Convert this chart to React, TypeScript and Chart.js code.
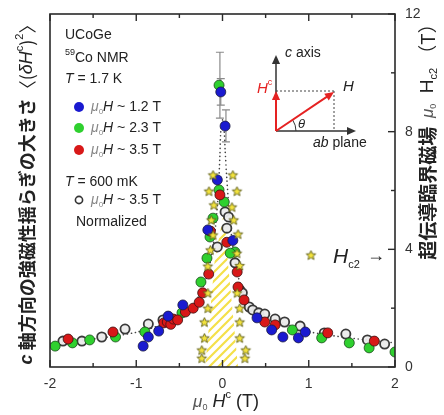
import React, { useEffect, useRef } from 'react';
import { Chart, registerables } from 'chart.js';
Chart.register(...registerables);

const SANS = '"Liberation Sans", Arial, Helvetica, sans-serif';
const CJK = '"Noto Sans CJK JP", "Noto Sans CJK SC", sans-serif';

// axis ticks
const xTicks = [-2, -1.5, -1, -0.5, 0, 0.5, 1, 1.5, 2];
const xTickLabels = ['-2', '', '-1', '', '0', '', '1', '', '2'];
const yTicks = [0, 2, 4, 6, 8, 10, 12];
const yTickLabels = ['0', '', '4', '', '8', '', '12'];

// 1.7 K, mu0H ~ 1.2 T
const blueX = [-0.02, 0.03, -0.06, -0.17, 0.12, -0.46, -0.63, -0.74, -0.86, -0.92, 0.40, 0.57, 0.70, 0.88, 0.96];
const blueY = [9.35, 8.19, 6.36, 4.66, 4.3, 2.11, 1.73, 1.22, 1.02, 0.71, 1.67, 1.26, 1.02, 0.99, 1.19];
// 1.7 K, mu0H ~ 2.3 T
const greenX = [-0.04, -0.04, 0.02, -0.11, -0.145, 0.145, -0.18, -0.25, 0.09, -0.47, -0.90, -1.24, -1.54, -1.74, -1.94, 0.81, 1.15, 1.47, 1.70, 2.0];
const greenY = [9.58, 6.02, 5.61, 5.06, 4.42, 3.91, 3.7, 2.89, 3.87, 1.84, 1.19, 1.02, 0.92, 0.82, 0.71, 1.26, 0.99, 0.82, 0.65, 0.51];
// 1.7 K, mu0H ~ 3.5 T
const redX = [-1.79, -1.27, -0.68, -0.64, -0.60, -0.57, -0.52, -0.43, -0.34, -0.27, -0.23, -0.16, -0.03, -0.14, 0.05, 0.17, 0.18, 0.25, 0.49, 0.61, 1.22, 1.76];
const redY = [0.95, 1.19, 1.50, 1.53, 1.45, 1.63, 1.60, 1.87, 2.0, 2.2, 2.52, 3.16, 5.85, 4.62, 4.24, 3.23, 2.72, 2.28, 1.53, 1.43, 1.16, 0.88];
// 600 mK, mu0H ~ 3.5 T (normalized)
const openX = [-1.85, -1.63, -1.40, -1.13, -0.86, -0.69, -0.06, 0.03, 0.05, 0.07, 0.145, 0.2, 0.23, 0.31, 0.35, 0.42, 0.49, 0.61, 0.72, 0.90, 1.18, 1.43, 1.68, 1.88];
const openY = [0.88, 0.88, 1.02, 1.29, 1.46, 1.60, 4.08, 5.27, 4.72, 5.10, 3.54, 2.62, 2.52, 2.04, 1.94, 1.84, 1.80, 1.63, 1.53, 1.39, 1.16, 1.12, 0.92, 0.78];
// Hc2 (right axis)
const starX = [-0.11, -0.157, -0.10, -0.13, -0.11, -0.14, -0.17, -0.17, -0.17, -0.21, -0.21, -0.24, -0.24,
  0.12, 0.168, 0.11, 0.13, 0.18, 0.168, 0.2, 0.17, 0.2, 0.2, 0.2, 0.27, 0.26];
const starY = [6.53, 5.98, 5.51, 5.0, 4.49, 3.98, 3.43, 2.52, 2.0, 1.53, 0.99, 0.58, 0.3,
  6.53, 5.98, 5.44, 5.0, 4.52, 3.87, 3.45, 2.52, 2.0, 1.53, 0.99, 0.58, 0.3];
// superconducting region (hatched)
const hatchX = [-0.2, -0.09, 0.02, 0.06, 0.18];
const hatchY = [0, 3.64, 5.3, 3.64, 0];
// guide to the eye (dotted)
const guideX = [-2.0, -1.5, -1.0, -0.7, -0.5, -0.35, -0.25, -0.18, -0.12, -0.08, -0.05, -0.03, -0.02, 0, 0.02, 0.03, 0.05, 0.08, 0.12, 0.18, 0.25, 0.35, 0.5, 0.7, 1.0, 1.5, 2.0];
const guideY = [0.8, 0.95, 1.18, 1.45, 1.75, 2.1, 2.55, 3.1, 3.9, 4.8, 5.9, 7.2, 8.0, 8.4, 8.0, 7.4, 6.4, 5.2, 4.1, 3.1, 2.45, 2.05, 1.75, 1.5, 1.2, 0.98, 0.82];
// error bars near the peak
const errX = [-0.03, -0.02, 0.04];
const errLo = [8.46, 8.9, 7.65];
const errHi = [10.7, 9.8, 8.74];

const BLUE = '#1a1ad0';
const GREEN = '#2fd02f';
const RED = '#d81818';

const pts = (xs: number[], ys: number[]) => xs.map((x, i) => ({ x, y: ys[i] }));

function makeStar(r: number) {
  const s = Math.ceil(r * 2 + 3);
  const c = document.createElement('canvas');
  c.width = s; c.height = s;
  const g = c.getContext('2d')!;
  g.beginPath();
  for (let i = 0; i < 10; i++) {
    const a = -Math.PI / 2 + (i * Math.PI) / 5;
    const rr = i % 2 === 0 ? r : r * 0.45;
    g.lineTo(s / 2 + rr * Math.cos(a), s / 2 + 0.5 + rr * Math.sin(a));
  }
  g.closePath();
  g.fillStyle = '#f3e33c';
  g.fill();
  g.strokeStyle = '#5e5e18';
  g.lineWidth = 0.9;
  g.stroke();
  return c;
}

function makeHatch(ctx: CanvasRenderingContext2D) {
  const n = 9;
  const c = document.createElement('canvas');
  c.width = n; c.height = n;
  const g = c.getContext('2d')!;
  g.strokeStyle = '#f4e04a';
  g.lineWidth = 2.2;
  g.beginPath();
  g.moveTo(0, n); g.lineTo(n, 0);
  g.moveTo(-2, 2); g.lineTo(2, -2);
  g.moveTo(n - 2, n + 2); g.lineTo(n + 2, n - 2);
  g.stroke();
  return ctx.createPattern(c, 'repeat')!;
}

type Seg = [string, string, number?, string?];
function richWidth(ctx: CanvasRenderingContext2D, segs: Seg[]) {
  let w = 0;
  for (const s of segs) { ctx.font = s[1]; w += ctx.measureText(s[0]).width; }
  return w;
}
function drawRich(ctx: CanvasRenderingContext2D, segs: Seg[], x: number, y: number, align: 'left' | 'center') {
  const w = richWidth(ctx, segs);
  let cx = align === 'center' ? x - w / 2 : x;
  ctx.textAlign = 'left';
  ctx.textBaseline = 'middle';
  for (const s of segs) {
    ctx.font = s[1];
    ctx.fillStyle = s[3] || '#222';
    ctx.fillText(s[0], cx, y + (s[2] || 0));
    cx += ctx.measureText(s[0]).width;
  }
}

function arrowHead(ctx: CanvasRenderingContext2D, x: number, y: number, ang: number, size: number, color: string) {
  ctx.save();
  ctx.translate(x, y);
  ctx.rotate(ang);
  ctx.beginPath();
  ctx.moveTo(0, 0);
  ctx.lineTo(-size, -size * 0.45);
  ctx.lineTo(-size, size * 0.45);
  ctx.closePath();
  ctx.fillStyle = color;
  ctx.fill();
  ctx.restore();
}

const starImgRef: { img: HTMLCanvasElement | null } = { img: null };

const overlay = {
  id: 'overlay',
  beforeDatasetsDraw(chart: any) {
    const ctx = chart.ctx as CanvasRenderingContext2D;
    const xs = chart.scales.x, ys = chart.scales.y;
    ctx.save();
    ctx.strokeStyle = '#8a8a8a';
    ctx.lineWidth = 1.2;
    errX.forEach((v, i) => {
      const px = xs.getPixelForValue(v);
      const p1 = ys.getPixelForValue(errLo[i]);
      const p2 = ys.getPixelForValue(errHi[i]);
      ctx.beginPath();
      ctx.moveTo(px, p1); ctx.lineTo(px, p2);
      ctx.moveTo(px - 4, p1); ctx.lineTo(px + 4, p1);
      ctx.moveTo(px - 4, p2); ctx.lineTo(px + 4, p2);
      ctx.stroke();
    });
    ctx.restore();
  },
  afterDraw(chart: any) {
    const ctx = chart.ctx as CanvasRenderingContext2D;
    const { left, right, top, bottom } = chart.chartArea;
    const xs = chart.scales.x, ys = chart.scales.y;
    ctx.save();
    // frame
    ctx.strokeStyle = '#2a2a2a';
    ctx.lineWidth = 1.6;
    ctx.strokeRect(left, top, right - left, bottom - top);
    // x ticks (bottom & top, inward)
    ctx.lineWidth = 1.4;
    xTicks.forEach((v, i) => {
      const px = xs.getPixelForValue(v);
      const len = xTickLabels[i] !== '' ? 7 : 4;
      ctx.beginPath();
      ctx.moveTo(px, bottom); ctx.lineTo(px, bottom - len);
      ctx.moveTo(px, top); ctx.lineTo(px, top + len);
      ctx.stroke();
      if (xTickLabels[i]) {
        ctx.font = `14px ${SANS}`;
        ctx.fillStyle = '#333';
        ctx.textAlign = 'center';
        ctx.textBaseline = 'middle';
        ctx.fillText(xTickLabels[i], px, bottom + 17);
      }
    });
    // right ticks
    yTicks.forEach((v, i) => {
      const py = ys.getPixelForValue(v);
      const len = yTickLabels[i] !== '' ? 7 : 4;
      ctx.beginPath();
      ctx.moveTo(right, py); ctx.lineTo(right - len, py);
      ctx.stroke();
      if (yTickLabels[i]) {
        ctx.font = `14px ${SANS}`;
        ctx.fillStyle = '#333';
        ctx.textAlign = 'left';
        ctx.textBaseline = 'middle';
        ctx.fillText(yTickLabels[i], right + 10, py);
      }
    });

    // x title
    drawRich(ctx, [
      ['μ', `italic 17px ${SANS}`, 0, '#555'],
      ['0', `9px ${SANS}`, 6, '#555'],
      [' H', `italic 18px ${SANS}`],
      ['c', `11px ${SANS}`, -7],
      [' (T)', `18px ${SANS}`],
    ], 226, 402, 'center');

    // left title
    ctx.save();
    ctx.translate(27, 190);
    ctx.rotate(-Math.PI / 2);
    drawRich(ctx, [
      ['c', `italic bold 18px ${SANS}`],
      [' 軸方向の強磁性揺らぎの大きさ', `bold 18px ${CJK}`],
      ['〈(', `18px ${CJK}`],
      ['δH', `italic 18px ${SANS}`],
      ['c', `11px ${SANS}`, -7],
      [')', `18px ${CJK}`],
      ['2', `11px ${SANS}`, -7],
      ['〉', `18px ${CJK}`],
    ], 0, 0, 'center');
    ctx.restore();

    // right title
    ctx.save();
    ctx.translate(428, 137);
    ctx.rotate(-Math.PI / 2);
    drawRich(ctx, [
      ['超伝導臨界磁場  ', `bold 19px ${CJK}`],
      ['μ', `italic 17px ${SANS}`, 0, '#555'],
      ['0', `9px ${SANS}`, 6, '#555'],
      ['  H', `19px ${SANS}`],
      ['c2', `11px ${SANS}`, 6],
      [' （T）', `19px ${CJK}`],
    ], 0, 0, 'center');
    ctx.restore();

    // annotations upper-left
    const f14 = `14px ${SANS}`;
    const i14 = `italic 14px ${SANS}`;
    drawRich(ctx, [['UCoGe', f14]], 65, 35, 'left');
    drawRich(ctx, [['59', `9px ${SANS}`, -5], ['Co NMR', f14]], 65, 58, 'left');
    drawRich(ctx, [['T', i14], [' = 1.7 K', f14]], 65, 79, 'left');
    const leg: [string, number, string][] = [[BLUE, 107, '1.2'], [GREEN, 128, '2.3'], [RED, 150, '3.5']];
    leg.forEach(([col, y, v]) => {
      ctx.beginPath();
      ctx.arc(79, y, 5, 0, Math.PI * 2);
      ctx.fillStyle = col;
      ctx.fill();
      drawRich(ctx, [['μ', i14, 0, '#888'], ['0', `8px ${SANS}`, 5, '#888'], ['H', i14], [` ~ ${v} T`, f14]], 91, y, 'left');
    });
    drawRich(ctx, [['T', i14], [' = 600 mK', f14]], 65, 182, 'left');
    ctx.beginPath();
    ctx.arc(79, 200, 3.6, 0, Math.PI * 2);
    ctx.fillStyle = '#fff';
    ctx.fill();
    ctx.strokeStyle = '#333';
    ctx.lineWidth = 1.6;
    ctx.stroke();
    drawRich(ctx, [['μ', i14, 0, '#888'], ['0', `8px ${SANS}`, 5, '#888'], ['H', i14], [' ~ 3.5 T', f14]], 91, 200, 'left');
    drawRich(ctx, [['Normalized', f14]], 76, 222, 'left');

    // Hc2 label
    if (starImgRef.img) {
      const im = starImgRef.img;
      ctx.drawImage(im, 311 - im.width / 2, 255 - im.height / 2);
    }
    drawRich(ctx, [['H', `italic 21px ${SANS}`], ['c2', `11px ${SANS}`, 8]], 333, 257, 'left');
    drawRich(ctx, [['→', `18px ${SANS}`]], 367, 256, 'left');

    // inset diagram
    const ox = 276, oy = 131;
    ctx.strokeStyle = '#333';
    ctx.lineWidth = 1.5;
    ctx.beginPath();
    ctx.moveTo(ox, oy); ctx.lineTo(ox, 62);
    ctx.moveTo(ox, oy); ctx.lineTo(349, oy);
    ctx.stroke();
    arrowHead(ctx, ox, 55, -Math.PI / 2, 9, '#333');
    arrowHead(ctx, 356, oy, 0, 9, '#333');
    // dotted projections
    ctx.save();
    ctx.setLineDash([2, 2]);
    ctx.lineWidth = 1;
    ctx.strokeStyle = '#444';
    ctx.beginPath();
    ctx.moveTo(ox, 91); ctx.lineTo(334, 91);
    ctx.moveTo(334, 91); ctx.lineTo(334, oy);
    ctx.stroke();
    ctx.restore();
    // theta arc
    ctx.beginPath();
    ctx.lineWidth = 1;
    ctx.arc(ox, oy, 20, -Math.atan2(oy - 92, 334 - ox), 0);
    ctx.stroke();
    // red arrows
    const redA = '#e52222';
    ctx.strokeStyle = redA;
    ctx.lineWidth = 2;
    ctx.beginPath();
    ctx.moveTo(ox, oy); ctx.lineTo(ox, 99);
    const ang = Math.atan2(92 - oy, 334 - ox);
    ctx.moveTo(ox, oy); ctx.lineTo(334 - 7 * Math.cos(ang), 92 - 7 * Math.sin(ang));
    ctx.stroke();
    arrowHead(ctx, ox, 91, -Math.PI / 2, 9, redA);
    arrowHead(ctx, 334, 92, ang, 9, redA);
    drawRich(ctx, [['c', i14], [' axis', f14]], 285, 53, 'left');
    drawRich(ctx, [['ab', i14], [' plane', f14]], 313, 143, 'left');
    drawRich(ctx, [['H', `italic 15px ${SANS}`]], 343, 87, 'left');
    drawRich(ctx, [['H', `italic 15px ${SANS}`, 0, redA], ['c', `9px ${SANS}`, -6, redA]], 257, 89, 'left');
    drawRich(ctx, [['θ', `italic 13px ${SANS}`]], 298, 124, 'left');
    ctx.restore();
  },
};

export default function App() {
  const ref = useRef<HTMLCanvasElement | null>(null);
  useEffect(() => {
    const canvas = ref.current!;
    const ctx = canvas.getContext('2d')!;
    document.body.style.margin = '0';
    const star = makeStar(5);
    starImgRef.img = star;
    const hatch = makeHatch(ctx);
    const circ = (data: any, bg: string, border: string, bw: number, r = 5) => ({
      type: 'scatter' as const,
      data,
      backgroundColor: bg,
      borderColor: border,
      borderWidth: bw,
      pointRadius: r,
      pointHoverRadius: r,
      showLine: false,
    });
    const chart = new Chart(canvas, {
      type: 'scatter',
      data: {
        datasets: [
          { type: 'scatter', data: pts(starX, starY), pointStyle: star as any, pointRadius: 5, showLine: false },
          circ(pts(blueX, blueY), BLUE, '#1a1a40', 0.8),
          circ(pts(redX, redY), RED, '#3a1010', 0.8),
          circ(pts(greenX, greenY), GREEN, '#1d4a1d', 0.8),
          circ(pts(openX, openY), 'rgba(235,235,235,0.95)', '#3a3a3a', 1.8, 4.6),
          {
            type: 'scatter', data: pts(guideX, guideY), showLine: true, pointRadius: 0,
            borderColor: '#444', borderWidth: 1.6, borderDash: [0.1, 4], borderCapStyle: 'round',
            tension: 0.3, fill: false,
          } as any,
          {
            type: 'scatter', data: pts(hatchX, hatchY), showLine: true, pointRadius: 0,
            borderWidth: 0, borderColor: 'rgba(0,0,0,0)', backgroundColor: hatch, fill: 'origin',
          } as any,
        ],
      },
      options: {
        responsive: false,
        animation: false,
        devicePixelRatio: 1,
        layout: { padding: { left: 50, right: 49, top: 14, bottom: 48 } },
        scales: {
          x: { type: 'linear', min: -2, max: 2, display: false },
          y: { type: 'linear', min: 0, max: 12, display: false },
        },
        plugins: { legend: { display: false }, tooltip: { enabled: false } },
        events: [],
      },
      plugins: [overlay],
    });
    return () => chart.destroy();
  }, []);
  return (
    <div style={{ position: 'absolute', left: 0, top: 0, width: 444, height: 415, background: '#fff' }}>
      <canvas ref={ref} width={444} height={415} style={{ display: 'block' }} />
    </div>
  );
}
